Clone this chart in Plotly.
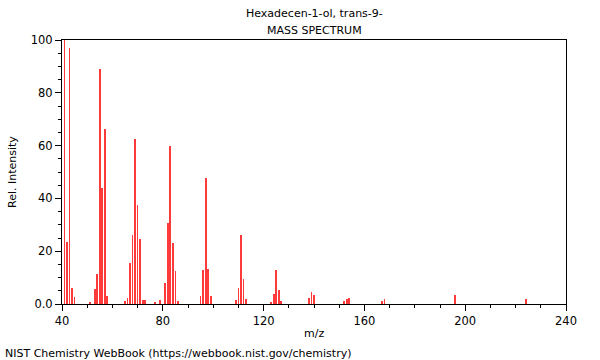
import plotly.graph_objects as go

mz = [41, 42, 43, 44, 45, 51, 53, 54, 55, 56, 57, 58,
      65, 66, 67, 68, 69, 70, 71, 72, 73, 77, 79, 81, 82, 83, 84, 85, 86,
      95, 96, 97, 98, 99, 109, 110, 111, 112, 113,
      123, 124, 125, 126, 127, 138, 139, 140, 152, 153, 154, 167, 168, 196, 224]
intensity = [100, 23.6, 97, 6.1, 2.8, 0.5, 5.8, 11.5, 89, 44, 66.3, 3.2,
             1.0, 2.1, 15.6, 26, 62.4, 37.5, 24.5, 1.5, 1.5, 0.5, 1.5, 7.8, 30.8, 59.8, 23.2, 12.6, 1.0,
             3.0, 12.8, 47.7, 13.1, 3.2, 1.5, 5.9, 26.1, 9.5, 1.9,
             0.8, 3.8, 12.9, 5.3, 1.0, 2.2, 4.6, 3.3, 1.2, 1.9, 2.2, 1.0, 1.9, 3.4, 1.9]

title_line1 = "Hexadecen-1-ol, trans-9-"
title_line2 = "MASS SPECTRUM"
x_title = "m/z"
y_title = "Rel. Intensity"
footer = "NIST Chemistry WebBook (https://webbook.nist.gov/chemistry)"
y_tickvals = [0, 20, 40, 60, 80, 100]
y_ticktext = ["0.0", "20", "40", "60", "80", "100"]
x_tickvals = [40, 80, 120, 160, 200, 240]

FONT = "DejaVu Sans"
L, R, T, B = 62, 34, 40, 56
PW, PH = 600 - L - R, 360 - T - B

fig = go.Figure()
fig.add_trace(go.Bar(x=mz, y=intensity, width=0.3,
                     marker=dict(color="#ff3a3a", line=dict(width=0)),
                     hoverinfo="x+y"))

fig.update_layout(
    width=600, height=360,
    margin=dict(l=L, r=R, t=T, b=B, autoexpand=False),
    paper_bgcolor="white", plot_bgcolor="white",
    showlegend=False, bargap=0,
    font=dict(family=FONT, size=11, color="black"),
    annotations=[
        dict(text=title_line1, x=0.5, y=1, xref="paper", yref="paper",
             xanchor="center", yanchor="middle", yshift=27, showarrow=False,
             font=dict(family=FONT, size=11)),
        dict(text=title_line2, x=0.5, y=1, xref="paper", yref="paper",
             xanchor="center", yanchor="middle", yshift=10, showarrow=False,
             font=dict(family=FONT, size=11)),
        dict(text=footer, x=-(L - 3) / PW, y=-(353 - T - PH) / PH, xref="paper", yref="paper",
             xanchor="left", yanchor="middle", showarrow=False,
             font=dict(family=FONT, size=11)),
        dict(text=y_title, x=-(L - 12) / PW, y=0.5, xref="paper", yref="paper",
             xanchor="center", yanchor="middle", textangle=-90, showarrow=False,
             font=dict(family=FONT, size=11)),
        dict(text=x_title, x=0.5, y=-(333 - T - PH) / PH, xref="paper", yref="paper",
             xanchor="center", yanchor="middle", showarrow=False,
             font=dict(family=FONT, size=11)),
    ],
)

fig.update_xaxes(range=[40, 240], tickvals=x_tickvals, ticks="outside", ticklen=6,
                 tickcolor="black", showline=True, linecolor="black", linewidth=1,
                 mirror=True, showgrid=False, zeroline=False, automargin=False,
                 tickfont=dict(family=FONT, size=11.5),
                 minor=dict(dtick=10, ticks="outside", ticklen=3, tickcolor="black"))
fig.update_yaxes(range=[0, 100], tickvals=y_tickvals, ticktext=y_ticktext,
                 ticks="outside", ticklen=6, tickcolor="black",
                 showline=True, linecolor="black", linewidth=1, mirror=True,
                 showgrid=False, zeroline=False, automargin=False,
                 tickfont=dict(family=FONT, size=11.5),
                 minor=dict(dtick=5, ticks="outside", ticklen=3, tickcolor="black"))

fig.write_html("out.html", config={"displayModeBar": False},
               post_script="document.body.style.margin='0';document.body.style.padding='0';")
